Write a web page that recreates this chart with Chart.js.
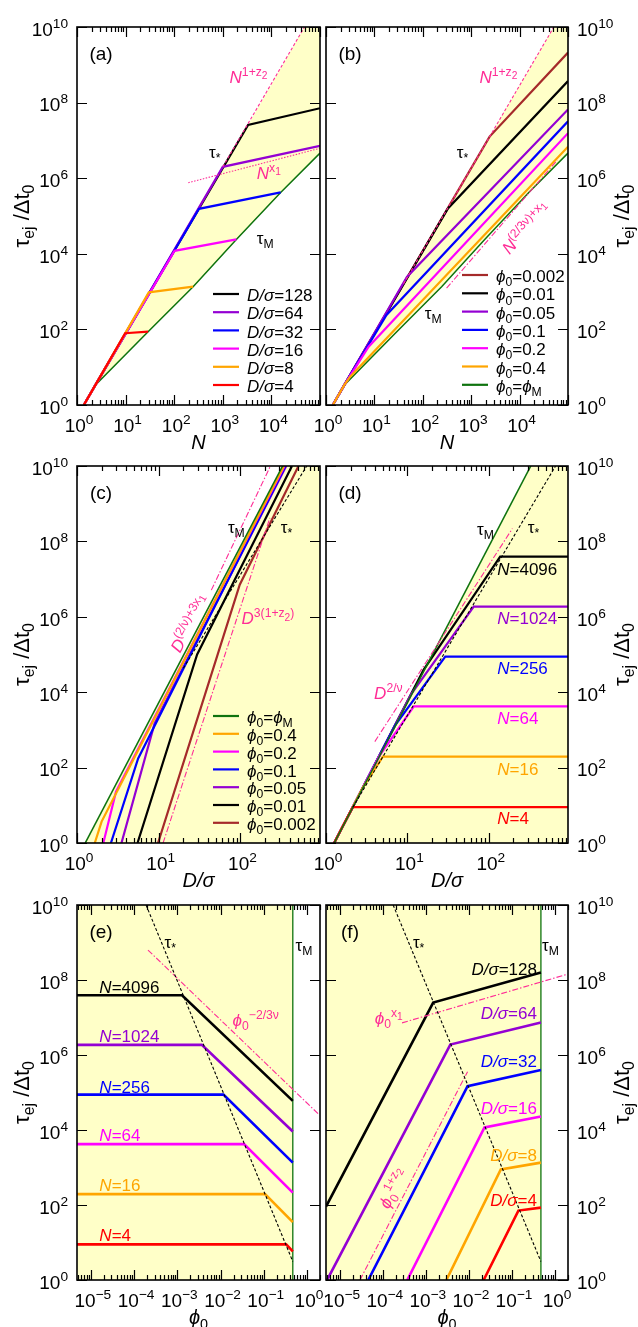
<!DOCTYPE html>
<html lang="en">
<head>
<meta charset="UTF-8">
<title>Ejection time vs N, D/σ and φ0</title>
<script src="https://cdn.jsdelivr.net/npm/chart.js"></script>
<style>
    html, body { margin: 0; padding: 0; background: #fff; }
    #fig { position: relative; width: 638px; height: 1327px; }
    #fig canvas { position: absolute; left: 0; top: 0; }
</style>
</head>
<body>
<div id="fig">
    <canvas id="pa" width="638" height="1327"></canvas>
    <canvas id="pb" width="638" height="1327"></canvas>
    <canvas id="pc" width="638" height="1327"></canvas>
    <canvas id="pd" width="638" height="1327"></canvas>
    <canvas id="pe" width="638" height="1327"></canvas>
    <canvas id="pf" width="638" height="1327"></canvas>
</div>
<script>
// ---- axis ranges and tick labels (exponents of 10) ----
const X_N = [1, 1e5];
const X_D = [1, 940];
const X_PHI = [4.8e-6, 2.0];
const Y_RANGE = [1, 1e10];
const xLabN = [0, 1, 2, 3, 4];
const xLabD = [0, 1, 2];
const xLabPhi = [-5, -4, -3, -2, -1, 0];
const yLab = [0, 2, 4, 6, 8, 10];

// ---- (a) tau_ej vs N at fixed D/sigma ----
const tauM_N = [[1.38, 1], [2.4, 3.4], [29, 87], [245, 1350], [1900, 2.4e4], [1.55e4, 4.2e5], [1e5, 4.6e6]];
const tauStar_Na = [[1.38, 1], [2.4, 3.4], [3311, 2.57e7], [4.79e4, 1e10]];
const aD4 = [[1.38, 1], [2.4, 3.4], [9.8, 79], [29, 87]];
const aD8 = [[1.38, 1], [2.4, 3.4], [30, 955], [245, 1350]];
const aD16 = [[1.38, 1], [2.4, 3.4], [102, 1.2e4], [1900, 2.4e4]];
const aD32 = [[1.38, 1], [2.4, 3.4], [324, 1.55e5], [1.55e4, 4.2e5]];
const aD64 = [[1.38, 1], [2.4, 3.4], [1000, 2.0e6], [1e5, 7.2e6]];
const aD128 = [[1.38, 1], [2.4, 3.4], [3311, 2.57e7], [1e5, 7.1e7]];
const aPowZ2 = [[1000, 2.0e6], [4.79e4, 1e10]];
const aPowX1 = [[195, 7.6e5], [1e5, 6.2e6]];

// ---- (b) tau_ej vs N at fixed phi0 ----
const tauStar_Nb = [[1.38, 1], [2.4, 3.4], [2400, 1.26e7], [5.1e4, 1e10]];
const bP0002 = [[1.38, 1], [2.4, 3.4], [2400, 1.26e7], [1e5, 2.1e9]];
const bP001 = [[1.38, 1], [2.4, 3.4], [331, 1.58e5], [1e5, 3.7e8]];
const bP005 = [[1.38, 1], [2.4, 3.4], [47, 2450], [1e5, 6.6e7]];
const bP01 = [[1.38, 1], [2.4, 3.4], [17.8, 240], [1e5, 3.2e7]];
const bP02 = [[1.38, 1], [2.4, 3.4], [7.6, 35], [1e5, 1.55e7]];
const bP04 = [[1.38, 1], [2.4, 3.4], [3.16, 5.6], [1e5, 6.8e6]];
const bPowZ2 = [[40, 1620], [5.1e4, 1e10]];
const bPowMix = [[310, 1230], [6.0e4, 3.0e6]];

// ---- (c) tau_ej vs D/sigma at fixed phi0 ----
const tauM_D = [[1.26, 1], [328, 1e10]];
const cP04 = [[1.65, 1], [2.0, 3.7], [340, 1e10]];
const cP02 = [[2.1, 1], [3.0, 23], [347, 1e10]];
const cP01 = [[2.6, 1], [5.6, 174], [355, 1e10]];
const cP005 = [[3.5, 1], [8.9, 1480], [363, 1e10]];
const cP001 = [[5.5, 1], [29.5, 1.0e5], [427, 1e10]];
const cP0002 = [[9.8, 1], [98, 7.1e6], [513, 1e10]];
const cTauStar = [[20, 4.3e4], [646, 1e10]];
const cPowMix = [[44, 5.1e6], [229, 9.3e9]];
const cPowZ2 = [[11.3, 1], [229, 4.2e8]];

// ---- (d) tau_ej vs D/sigma at fixed N ----
const dN4 = [[1.26, 1], [1.58, 2.6], [2.14, 8.9], [940, 8.9]];
const dN16 = [[1.26, 1], [2.82, 29], [5.0, 195], [940, 195]];
const dN64 = [[1.26, 1], [4.47, 195], [12, 4.2e3], [940, 4.2e3]];
const dN256 = [[1.26, 1], [7.1, 1350], [29.2, 8.8e4], [940, 8.8e4]];
const dN1024 = [[1.26, 1], [11.2, 9100], [65.3, 1.86e6], [940, 1.86e6]];
const dN4096 = [[1.26, 1], [15.8, 3.9e4], [138, 3.93e7], [940, 3.93e7]];
const dTauStar = [[2.14, 8.9], [661, 1e10]];
const dPow2nu = [[3.98, 490], [195, 2.19e8]];

// ---- (e) tau_ej vs phi0 at fixed N ----
const tauM_phi = [[0.47, 1], [0.47, 1e10]];
const eN4096 = [[4.8e-6, 3.93e7], [1.29e-3, 3.93e7], [0.47, 6.0e4]];
const eN1024 = [[4.8e-6, 1.86e6], [3.7e-3, 1.86e6], [0.47, 9.1e3]];
const eN256 = [[4.8e-6, 8.8e4], [1.17e-2, 8.8e4], [0.47, 1350]];
const eN64 = [[4.8e-6, 4.2e3], [3.5e-2, 4.2e3], [0.47, 214]];
const eN16 = [[4.8e-6, 195], [0.107, 195], [0.47, 35]];
const eN4 = [[4.8e-6, 8.9], [0.33, 8.9], [0.47, 5.8]];
const eTauStar = [[1.9e-4, 1e10], [0.47, 3.1]];
const ePowPhi = [[2.1e-4, 6.3e8], [1.95, 2.5e4]];

// ---- (f) tau_ej vs phi0 at fixed D/sigma ----
const fD128 = [[4.8e-6, 91], [1.48e-3, 2.5e7], [0.47, 1.58e8]];
const fD64 = [[5.1e-6, 1], [3.7e-3, 1.9e6], [0.47, 7.4e6]];
const fD32 = [[4.6e-5, 1], [9.3e-3, 1.48e5], [0.47, 4.0e5]];
const fD16 = [[3.7e-4, 1], [2.3e-2, 1.17e4], [0.47, 2.3e4]];
const fD8 = [[3.0e-3, 1], [5.5e-2, 890], [0.47, 1350]];
const fD4 = [[2.2e-2, 1], [0.141, 71], [0.47, 85]];
const fTauStar = [[1.74e-4, 1e10], [0.47, 3.1]];
const fPowX1 = [[2.8e-4, 7.2e6], [1.86, 1.41e8]];
const fPowZ2 = [[2.95e-5, 1], [9.3e-3, 3.6e5]];

// ---- colours / styles ----
const BLACK = '#000000', PURPLE = '#9400d3', BLUE = '#0000ff', MAGENTA = '#ff00ff',
      ORANGE = '#ffa500', RED = '#ff0000', BROWN = '#a52a2a', GREEN = '#0e730e',
      PINK = '#ff2d96', YELLOW = '#ffffc8';
const FONT = '"Liberation Sans", Arial, Helvetica, sans-serif';
const DASH = [3, 2], DOT = [1.5, 1.5], DASHDOT = [6, 2, 1.5, 2];
const PHI = 'ϕ';

const ROWS = [[27, 405], [466, 843], [905, 1280]];
const COLS = [[77, 320], [326, 568]];

function line(data, color, width, order, extra) {
    return Object.assign({
        data: data.map(p => ({ x: p[0], y: p[1] })),
        borderColor: color, borderWidth: width, order: order,
        showLine: true, pointRadius: 0, fill: false, tension: 0
    }, extra || {});
}

// rich text: parts = [[text, style]], style: i (italic), sup, sub, ss (sub inside sup)
function rich(ctx, parts, x, y, o) {
    o = o || {};
    const size = o.size || 17;
    const items = parts.map(([t, st]) => {
        st = st || '';
        let s = size, dy = 0;
        if (st.includes('sup')) { s = size * 0.72; dy = -size * 0.42; }
        else if (st.includes('sub')) { s = size * 0.72; dy = size * 0.24; }
        else if (st.includes('ss')) { s = size * 0.6; dy = -size * 0.22; }
        const font = (st.includes('i') ? 'italic ' : '') + s.toFixed(1) + 'px ' + FONT;
        ctx.font = font;
        return { t, font, dy, w: ctx.measureText(t).width };
    });
    const total = items.reduce((a, b) => a + b.w, 0);
    ctx.save();
    ctx.translate(x, y);
    if (o.rot) ctx.rotate(o.rot * Math.PI / 180);
    let cx = o.align === 'center' ? -total / 2 : o.align === 'right' ? -total : 0;
    ctx.fillStyle = o.color || BLACK;
    ctx.textBaseline = 'alphabetic';
    ctx.textAlign = 'left';
    const base = size * 0.36;
    items.forEach(it => {
        ctx.font = it.font;
        ctx.fillText(it.t, cx, base + it.dy);
        cx += it.w;
    });
    ctx.restore();
}

const T_STAR = [['τ'], ['*', 'sub']];
const T_M = [['τ'], ['M', 'sub']];
const Y_TITLE = [['τ'], ['ej', 'sub'], [' /Δt'], ['0', 'sub']];
const PHI_M_TEXT = [[PHI, 'i'], ['0', 'sub'], ['='], [PHI, 'i'], ['M', 'sub']];
const phiEq = v => [[PHI, 'i'], ['0', 'sub'], ['=' + v]];
const dEq = v => [['D/σ', 'i'], ['=' + v]];
const nEq = v => [['N', 'i'], ['=' + v]];
const expLabel = e => [['10'], [String(e).replace('-', '−'), 'sup']];

// background fill, frame, ticks, labels, legend and notes for one panel
function deco(cfg) {
    const px = (chart, p) => [chart.scales.x.getPixelForValue(p[0]), chart.scales.y.getPixelForValue(p[1])];
    return {
        id: 'deco',
        beforeDatasetsDraw(chart) {
            const ctx = chart.ctx, a = chart.chartArea;
            ctx.save();
            ctx.beginPath();
            ctx.rect(a.left, a.top, a.right - a.left, a.bottom - a.top);
            ctx.clip();
            ctx.fillStyle = YELLOW;
            ctx.beginPath();
            cfg.region.forEach((p, i) => {
                const [X, Y] = px(chart, p);
                if (i) ctx.lineTo(X, Y); else ctx.moveTo(X, Y);
            });
            ctx.closePath();
            ctx.fill();
            ctx.restore();
        },
        afterDatasetsDraw(chart) {
            const ctx = chart.ctx, a = chart.chartArea;
            const sx = chart.scales.x, sy = chart.scales.y;
            ctx.save();
            // frame
            ctx.strokeStyle = BLACK;
            ctx.lineWidth = 1.6;
            ctx.strokeRect(a.left, a.top, a.right - a.left, a.bottom - a.top);
            // x ticks: decades long, 2..9 short
            ctx.lineWidth = 1.2;
            ctx.beginPath();
            const [xmin, xmax] = cfg.xr;
            for (let e = Math.floor(Math.log10(xmin)); e <= Math.ceil(Math.log10(xmax)); e++) {
                for (let k = 1; k <= 9; k++) {
                    const v = k * Math.pow(10, e);
                    if (v < xmin * 0.999 || v > xmax * 1.001) continue;
                    const X = Math.round(sx.getPixelForValue(v)) + 0.5;
                    const L = k === 1 ? 10 : 5;
                    ctx.moveTo(X, a.bottom); ctx.lineTo(X, a.bottom - L);
                    ctx.moveTo(X, a.top); ctx.lineTo(X, a.top + L);
                }
            }
            // y ticks on both sides
            yLab.forEach(e => {
                const Y = Math.round(sy.getPixelForValue(Math.pow(10, e))) + 0.5;
                ctx.moveTo(a.left, Y); ctx.lineTo(a.left + 10, Y);
                ctx.moveTo(a.right, Y); ctx.lineTo(a.right - 10, Y);
            });
            ctx.stroke();
            ctx.restore();

            // tick labels
            cfg.xLab.forEach(e => {
                rich(ctx, expLabel(e), sx.getPixelForValue(Math.pow(10, e)) + 2, a.bottom + 20, { size: 19, align: 'center' });
            });
            yLab.forEach(e => {
                const Y = sy.getPixelForValue(Math.pow(10, e)) + 2;
                if (cfg.side === 'left') rich(ctx, expLabel(e), a.left - 9, Y, { size: 19, align: 'right' });
                else rich(ctx, expLabel(e), a.right + 9, Y, { size: 19, align: 'left' });
            });
            // axis titles
            rich(ctx, cfg.xTitle, (a.left + a.right) / 2, a.bottom + 37, { size: 20, align: 'center' });
            rich(ctx, Y_TITLE, cfg.side === 'left' ? 21 : 621, (a.top + a.bottom) / 2, { size: 22, align: 'center', rot: -90 });
            // panel letter
            rich(ctx, [[cfg.letter]], a.left + 24, a.top + 26, { size: 19, align: 'center' });

            // in-plot notes
            cfg.notes.forEach(n => {
                const [X, Y] = px(chart, [n.x, n.y]);
                rich(ctx, n.p, X, Y, { size: n.size || 17, align: n.align || 'left', color: n.color || BLACK, rot: n.rot });
            });

            // legend built from the datasets that carry a legendRank
            if (cfg.legend) {
                const lg = cfg.legend;
                chart.data.datasets
                    .filter(d => d.legendRank !== undefined)
                    .sort((p, q) => p.legendRank - q.legendRank)
                    .forEach((d, i) => {
                        const Y = a.top + lg.y0 + i * lg.dy;
                        ctx.save();
                        ctx.strokeStyle = d.borderColor;
                        ctx.lineWidth = 2.2;
                        ctx.beginPath();
                        ctx.moveTo(a.left + lg.x0, Y);
                        ctx.lineTo(a.left + lg.x0 + 26, Y);
                        ctx.stroke();
                        ctx.restore();
                        rich(ctx, d.legendText, a.left + lg.x0 + 34, Y + 1, { size: 17 });
                    });
            }
        }
    };
}

function makePanel(cfg) {
    const [L, R] = COLS[cfg.col];
    const [T, B] = ROWS[cfg.row];
    return new Chart(document.getElementById(cfg.id), {
        type: 'scatter',
        data: { datasets: cfg.datasets },
        options: {
            responsive: false,
            animation: false,
            events: [],
            layout: { padding: { left: L, top: T, right: 638 - R, bottom: 1327 - B } },
            plugins: { legend: { display: false }, tooltip: { enabled: false } },
            scales: {
                x: { type: 'logarithmic', min: cfg.xr[0], max: cfg.xr[1], display: false },
                y: { type: 'logarithmic', min: Y_RANGE[0], max: Y_RANGE[1], display: false }
            }
        },
        plugins: [deco(cfg)]
    });
}

const LW = 2.2, LW2 = 2.6;

makePanel({
    id: 'pa', col: 0, row: 0, side: 'left', letter: '(a)', xr: X_N, xLab: xLabN, xTitle: [['N', 'i']],
    region: [...tauStar_Na, [X_N[1], Y_RANGE[1]], ...tauM_N.slice().reverse()],
    datasets: [
        line(aPowZ2, PINK, 1.1, 0, { borderDash: DASH }),
        line(aPowX1, PINK, 1.1, 0, { borderDash: DOT }),
        line(aD4, RED, LW, 1, { legendRank: 5, legendText: dEq(4) }),
        line(aD8, ORANGE, LW, 2, { legendRank: 4, legendText: dEq(8) }),
        line(aD16, MAGENTA, LW, 3, { legendRank: 3, legendText: dEq(16) }),
        line(aD32, BLUE, LW, 4, { legendRank: 2, legendText: dEq(32) }),
        line(aD64, PURPLE, LW, 5, { legendRank: 1, legendText: dEq(64) }),
        line(aD128, BLACK, LW, 6, { legendRank: 0, legendText: dEq(128) }),
        line(tauM_N, GREEN, 1.5, 7)
    ],
    legend: { x0: 136, y0: 267, dy: 18.2 },
    notes: [
        { p: [['N', 'i'], ['1+z', 'sup'], ['2', 'ss']], x: 1380, y: 4.8e8, color: PINK },
        { p: T_STAR, x: 680, y: 5.0e6, align: 'center' },
        { p: [['N', 'i'], ['x', 'sup'], ['1', 'ss']], x: 5000, y: 1.38e6, color: PINK },
        { p: T_M, x: 5000, y: 2.6e4 }
    ]
});

makePanel({
    id: 'pb', col: 1, row: 0, side: 'right', letter: '(b)', xr: X_N, xLab: xLabN, xTitle: [['N', 'i']],
    region: [...tauStar_Nb, [X_N[1], Y_RANGE[1]], ...tauM_N.slice().reverse()],
    datasets: [
        line(bPowZ2, PINK, 1.1, 0, { borderDash: DASH }),
        line(bPowMix, PINK, 1.1, 0, { borderDash: DASHDOT }),
        line(bP04, ORANGE, LW, 1, { legendRank: 5, legendText: phiEq('0.4') }),
        line(bP02, MAGENTA, LW, 2, { legendRank: 4, legendText: phiEq('0.2') }),
        line(bP01, BLUE, LW, 3, { legendRank: 3, legendText: phiEq('0.1') }),
        line(bP005, PURPLE, LW, 4, { legendRank: 2, legendText: phiEq('0.05') }),
        line(bP001, BLACK, LW, 5, { legendRank: 1, legendText: phiEq('0.01') }),
        line(bP0002, BROWN, LW, 6, { legendRank: 0, legendText: phiEq('0.002') }),
        line(tauM_N, GREEN, 1.5, 7, { legendRank: 6, legendText: PHI_M_TEXT })
    ],
    legend: { x0: 136, y0: 248, dy: 18.3 },
    notes: [
        { p: [['N', 'i'], ['1+z', 'sup'], ['2', 'ss']], x: 1480, y: 4.8e8, color: PINK },
        { p: T_STAR, x: 660, y: 5.0e6, align: 'center' },
        { p: T_M, x: 110, y: 270 },
        { p: [['N', 'i'], ['(2/3ν)+x', 'sup'], ['1', 'ss']], x: 1.35e4, y: 4.8e4, color: PINK, align: 'center', rot: -48 }
    ]
});

makePanel({
    id: 'pc', col: 0, row: 1, side: 'left', letter: '(c)', xr: X_D, xLab: xLabD, xTitle: [['D/σ', 'i']],
    region: [...tauM_D, [X_D[1], Y_RANGE[1]], [X_D[1], Y_RANGE[0]]],
    datasets: [
        line(cTauStar, BLACK, 1.1, 0, { borderDash: DASH }),
        line(cPowMix, PINK, 1.1, 0, { borderDash: DASHDOT }),
        line(cPowZ2, PINK, 1.1, 0, { borderDash: DASHDOT }),
        line(tauM_D, GREEN, 1.6, 1, { legendRank: 0, legendText: PHI_M_TEXT }),
        line(cP04, ORANGE, LW, 2, { legendRank: 1, legendText: phiEq('0.4') }),
        line(cP02, MAGENTA, LW, 3, { legendRank: 2, legendText: phiEq('0.2') }),
        line(cP01, BLUE, LW, 4, { legendRank: 3, legendText: phiEq('0.1') }),
        line(cP005, PURPLE, LW, 5, { legendRank: 4, legendText: phiEq('0.05') }),
        line(cP001, BLACK, LW, 6, { legendRank: 5, legendText: phiEq('0.01') }),
        line(cP0002, BROWN, LW, 7, { legendRank: 6, legendText: phiEq('0.002') })
    ],
    legend: { x0: 136, y0: 250, dy: 17.8 },
    notes: [
        { p: T_M, x: 89, y: 2.4e8, align: 'center' },
        { p: T_STAR, x: 365, y: 2.4e8, align: 'center' },
        { p: [['D', 'i'], ['(2/ν)+3x', 'sup'], ['1', 'ss']], x: 24, y: 6.6e5, color: PINK, align: 'center', rot: -61 },
        { p: [['D', 'i'], ['3(1+z', 'sup'], ['2', 'ss'], [')', 'sup']], x: 103, y: 9.1e5, color: PINK }
    ]
});

makePanel({
    id: 'pd', col: 1, row: 1, side: 'right', letter: '(d)', xr: X_D, xLab: xLabD, xTitle: [['D/σ', 'i']],
    region: [...tauM_D, [X_D[1], Y_RANGE[1]], [X_D[1], Y_RANGE[0]]],
    datasets: [
        line(dTauStar, BLACK, 1.1, 0, { borderDash: DASH }),
        line(dPow2nu, PINK, 1.1, 0, { borderDash: DASHDOT }),
        line(tauM_D, GREEN, 1.6, 1),
        line(dN4, RED, LW, 2),
        line(dN16, ORANGE, LW, 3),
        line(dN64, MAGENTA, LW, 4),
        line(dN256, BLUE, LW, 5),
        line(dN1024, PURPLE, LW, 6),
        line(dN4096, BLACK, LW, 7)
    ],
    notes: [
        { p: T_M, x: 91, y: 2.2e8, align: 'center' },
        { p: T_STAR, x: 355, y: 2.4e8, align: 'center' },
        { p: [['D', 'i'], ['2/ν', 'sup']], x: 3.9, y: 9.5e3, color: PINK },
        { p: nEq(4096), x: 127, y: 1.9e7, color: BLACK },
        { p: nEq(1024), x: 127, y: 9.1e5, color: PURPLE },
        { p: nEq(256), x: 127, y: 4.3e4, color: BLUE },
        { p: nEq(64), x: 127, y: 2040, color: MAGENTA },
        { p: nEq(16), x: 127, y: 95, color: ORANGE },
        { p: nEq(4), x: 127, y: 4.5, color: RED }
    ]
});

makePanel({
    id: 'pe', col: 0, row: 2, side: 'left', letter: '(e)', xr: X_PHI, xLab: xLabPhi, xTitle: [[PHI, 'i'], ['0', 'sub']],
    region: [[X_PHI[0], Y_RANGE[0]], [X_PHI[0], Y_RANGE[1]], ...tauM_phi.slice().reverse()],
    datasets: [
        line(eTauStar, BLACK, 1.1, 0, { borderDash: DASH }),
        line(ePowPhi, PINK, 1.1, 0, { borderDash: DASHDOT }),
        line(eN4, RED, LW2, 1),
        line(eN16, ORANGE, LW2, 2),
        line(eN64, MAGENTA, LW2, 3),
        line(eN256, BLUE, LW2, 4),
        line(eN1024, PURPLE, LW2, 5),
        line(eN4096, BLACK, LW2, 6),
        line(tauM_phi, GREEN, 1.3, 7)
    ],
    notes: [
        { p: T_STAR, x: 6.9e-4, y: 1.05e9, align: 'center' },
        { p: T_M, x: 0.54, y: 8.5e8 },
        { p: [[PHI, 'i'], ['0', 'sub'], ['−2/3ν', 'sup']], x: 0.019, y: 8.5e6, color: PINK },
        { p: nEq(4096), x: 1.58e-5, y: 6.6e7, color: BLACK },
        { p: nEq(1024), x: 1.58e-5, y: 3.2e6, color: PURPLE },
        { p: nEq(256), x: 1.58e-5, y: 1.45e5, color: BLUE },
        { p: nEq(64), x: 1.58e-5, y: 7200, color: MAGENTA },
        { p: nEq(16), x: 1.58e-5, y: 340, color: ORANGE },
        { p: nEq(4), x: 1.58e-5, y: 15.5, color: RED }
    ]
});

makePanel({
    id: 'pf', col: 1, row: 2, side: 'right', letter: '(f)', xr: X_PHI, xLab: xLabPhi, xTitle: [[PHI, 'i'], ['0', 'sub']],
    region: [[X_PHI[0], Y_RANGE[0]], [X_PHI[0], Y_RANGE[1]], ...tauM_phi.slice().reverse()],
    datasets: [
        line(fTauStar, BLACK, 1.1, 0, { borderDash: DASH }),
        line(fPowX1, PINK, 1.1, 0, { borderDash: DASHDOT }),
        line(fPowZ2, PINK, 1.1, 0, { borderDash: DASHDOT }),
        line(fD4, RED, LW2, 1),
        line(fD8, ORANGE, LW2, 2),
        line(fD16, MAGENTA, LW2, 3),
        line(fD32, BLUE, LW2, 4),
        line(fD64, PURPLE, LW2, 5),
        line(fD128, BLACK, LW2, 6),
        line(tauM_phi, GREEN, 1.3, 7)
    ],
    notes: [
        { p: T_STAR, x: 6.8e-4, y: 1.05e9, align: 'center' },
        { p: T_M, x: 0.5, y: 8.5e8 },
        { p: [[PHI, 'i'], ['0', 'sub'], ['x', 'sup'], ['1', 'ss']], x: 6.5e-5, y: 9.8e6, color: PINK },
        { p: [[PHI, 'i'], ['0', 'sub'], ['1+z', 'sup'], ['2', 'ss']], x: 1.7e-4, y: 280, color: PINK, align: 'center', rot: -63 },
        { p: dEq(128), x: 0.38, y: 2.0e8, color: BLACK, align: 'right' },
        { p: dEq(64), x: 0.38, y: 1.3e7, color: PURPLE, align: 'right' },
        { p: dEq(32), x: 0.38, y: 6.9e5, color: BLUE, align: 'right' },
        { p: dEq(16), x: 0.38, y: 3.8e4, color: MAGENTA, align: 'right' },
        { p: dEq(8), x: 0.38, y: 2140, color: ORANGE, align: 'right' },
        { p: dEq(4), x: 0.38, y: 135, color: RED, align: 'right' }
    ]
});
</script>
</body>
</html>
